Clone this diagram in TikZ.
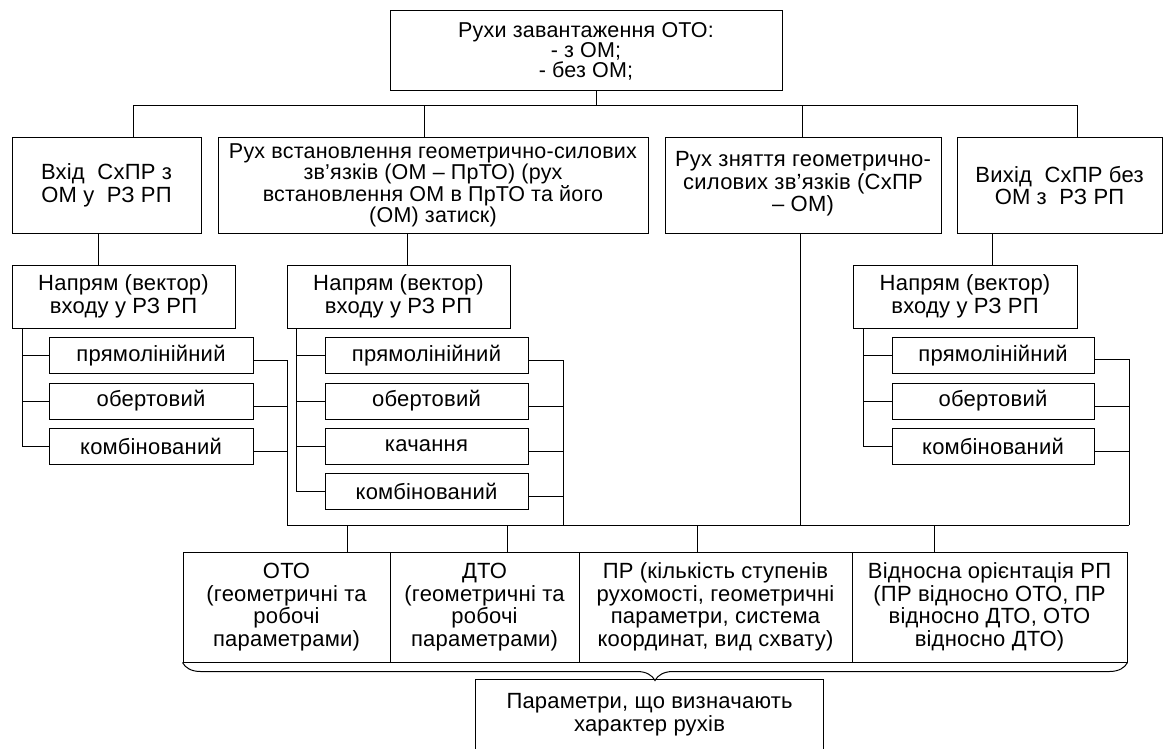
\documentclass[tikz,border=0pt]{standalone}
\usepackage{fontspec}
\setmainfont{Liberation Sans}[LetterSpace=1]
\usetikzlibrary{decorations.pathreplacing}
\tikzset{
  box/.style={draw, line width=1pt, inner sep=0pt, align=center, font=\fontsize{22}{22.5}\selectfont},
  plain/.style={inner sep=0pt, align=center, font=\fontsize{22}{22.5}\selectfont},
  ln/.style={line width=1pt}
}
\begin{document}
\begin{tikzpicture}[x=1pt,y=-1pt]
\useasboundingbox (0,0) rectangle (1165,749);
% top
\node[box, minimum width=392pt, minimum height=80pt, font=\fontsize{21.5}{20}\selectfont] (top) at (586,51) {Рухи завантаження ОТО:\\- з ОМ;\\- без ОМ;};
% level 2
\node[box, minimum width=189pt, minimum height=95pt] (b1) at (106.5,185.5) {Вхід \ СхПР з\\ОМ у \ РЗ РП};
\node[box, minimum width=430pt, minimum height=95pt, font=\fontsize{21.5}{21.5}\selectfont] (b2) at (433,185.5) {Рух встановлення геометрично-силових\\зв’язків (ОМ – ПрТО) (рух\\встановлення ОМ в ПрТО та його\\(ОМ) затиск)};
\node[box, minimum width=276pt, minimum height=95pt] (b3) at (803,185.5) {Рух зняття геометрично-\\силових зв’язків (СхПР\\– ОМ)\rule[-8pt]{0pt}{1pt}};
\node[box, minimum width=205pt, minimum height=95pt] (b4) at (1059.5,185.5) {Вихід \ СхПР без\\ОМ з \ РЗ РП};
% level 3
\node[box, minimum width=223pt, minimum height=63pt] (nA) at (123.5,296.5) {Напрям (вектор)\\входу у РЗ РП};
\node[box, minimum width=223pt, minimum height=63pt] (nB) at (398.5,296.5) {Напрям (вектор)\\входу у РЗ РП};
\node[box, minimum width=224pt, minimum height=63pt] (nC) at (965,296.5) {Напрям (вектор)\\входу у РЗ РП};
% items
\tikzset{item/.style={box, minimum height=36pt}}
\node[item, minimum width=204pt] (a1) at (151,355.5) {прямолінійний};
\node[item, minimum width=204pt] (a2) at (151,401) {обертовий};
\node[item, minimum width=204pt] (a3) at (151,446) {комбінований};
\node[item, minimum width=203pt] (m1) at (426.5,355.5) {прямолінійний};
\node[item, minimum width=203pt] (m2) at (426.5,401) {обертовий};
\node[item, minimum width=203pt] (m3) at (426.5,446) {качання};
\node[item, minimum width=203pt] (m4) at (426.5,491.5) {комбінований};
\node[item, minimum width=202pt] (c1) at (993,355.5) {прямолінійний};
\node[item, minimum width=202pt] (c2) at (993,401) {обертовий};
\node[item, minimum width=202pt] (c3) at (993,446) {комбінований};
% bottom boxes
\node[box, minimum width=207pt, minimum height=110pt] (o1) at (286.5,607) {ОТО\\(геометричні та\\робочі\\параметрами)};
\node[box, minimum width=189pt, minimum height=110pt] (o2) at (484.5,607) {ДТО\\(геометричні та\\робочі\\параметрами)};
\node[box, minimum width=273pt, minimum height=110pt] (o3) at (715.5,607) {ПР (кількість ступенів\\рухомості, геометричні\\параметри, система\\координат, вид схвату)};
\node[box, minimum width=275pt, minimum height=110pt] (o4) at (989.5,607) {Відносна орієнтація РП\\(ПР відносно ОТО, ПР\\відносно ДТО, ОТО\\відносно ДТО)};
\node[plain, minimum width=347pt, minimum height=69pt] (par) at (649.5,714.5) {Параметри, що визначають\\характер рухів};
\draw[ln] (par.south west) -- (par.north west) -- (par.north east) -- (par.south east);
% coordinates
\coordinate (t0) at (596,106);
\coordinate (d1) at (133,106);
\coordinate (d2) at (424,106);
\coordinate (d3) at (802,106);
\coordinate (d4) at (1077,106);
\coordinate (x1) at (98,0);
\coordinate (x2) at (407,0);
\coordinate (x4) at (992,0);
\coordinate (x3) at (800,0);
\coordinate (sA) at (22,0);
\coordinate (sB) at (296,0);
\coordinate (sC) at (863,0);
\coordinate (rA) at (287,525);
\coordinate (rB) at (563,525);
\coordinate (rC) at (1129,525);
\coordinate (p1) at (347,525);
\coordinate (p2) at (507,525);
\coordinate (p3) at (697,525);
\coordinate (p4) at (934,525);
% top bus
\draw[ln] (top.south -| t0) -- (t0);
\draw[ln] (b1.north -| d1) -- (d1) -- (d4) -- (b4.north -| d4);
\draw[ln] (d2) -- (b2.north -| d2);
\draw[ln] (d3) -- (b3.north -| d3);
% level 2 -> 3
\draw[ln] (b1.south -| x1) -- (nA.north -| x1);
\draw[ln] (b2.south -| x2) -- (nB.north -| x2);
\draw[ln] (b4.south -| x4) -- (nC.north -| x4);
\draw[ln] (b3.south -| x3) -- (x3 |- rA);
% left spines
\draw[ln] (nA.south -| sA) |- (a3.west);
\draw[ln] (sA |- a1.west) -- (a1.west);
\draw[ln] (sA |- a2.west) -- (a2.west);
\draw[ln] (nB.south -| sB) |- (m4.west);
\draw[ln] (sB |- m1.west) -- (m1.west);
\draw[ln] (sB |- m2.west) -- (m2.west);
\draw[ln] (sB |- m3.west) -- (m3.west);
\draw[ln] (nC.south -| sC) |- (c3.west);
\draw[ln] (sC |- c1.west) -- (c1.west);
\draw[ln] (sC |- c2.west) -- (c2.west);
% right spines
\draw[ln] ([yshift=-5pt]a1.east) -| (rA);
\draw[ln] ([yshift=-5pt]a2.east) -| (rA);
\draw[ln] ([yshift=-5pt]a3.east) -| (rA);
\draw[ln] ([yshift=-5pt]m1.east) -| (rB);
\draw[ln] ([yshift=-5pt]m2.east) -| (rB);
\draw[ln] ([yshift=-5pt]m3.east) -| (rB);
\draw[ln] ([yshift=-5pt]m4.east) -| (rB);
\draw[ln] ([yshift=-4pt]c1.east) -| (rC);
\draw[ln] ([yshift=-5pt]c2.east) -| (rC);
\draw[ln] ([yshift=-5pt]c3.east) -| (rC);
% bottom bus
\draw[ln] (rA) -- (rC);
\draw[ln] (p1) -- (o1.north -| p1);
\draw[ln] (p2) -- (o2.north -| p2);
\draw[ln] (p3) -- (o3.north -| p3);
\draw[ln] (p4) -- (o4.north -| p4);
% brace
\draw[ln, decorate, decoration={brace, mirror, amplitude=18pt}] (o1.south west) -- (o4.south east);
\end{tikzpicture}
\end{document}
